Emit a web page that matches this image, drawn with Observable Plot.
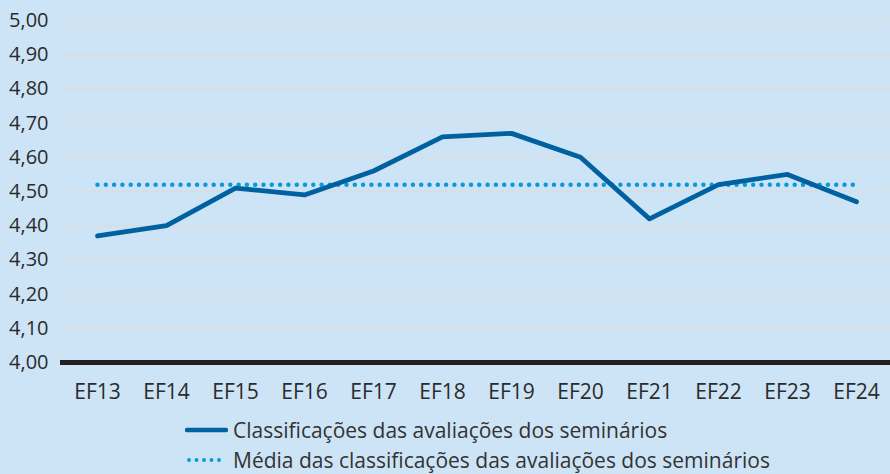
<!DOCTYPE html>
<html><head><meta charset="utf-8">
<script src="https://cdn.jsdelivr.net/npm/d3@7"></script>
<script src="https://cdn.jsdelivr.net/npm/@observablehq/plot@0.6"></script>
<style>
html,body{margin:0;padding:0;background:#cde4f6;}
body{width:890px;height:474px;overflow:hidden;font-family:"Open Sans","Noto Sans",sans-serif;color:#333;}
#chart svg{display:block;}
#legend{position:relative;padding-left:185px;margin-top:5px;}
.row{display:flex;align-items:center;height:30px;font-size:21px;color:#333;white-space:nowrap;}
.row span{line-height:22px;}
.row svg{margin-right:5px;display:block;}
</style></head><body>
<div id="chart"></div>
<div id="legend"></div>
<script>
const categories = ["EF13","EF14","EF15","EF16","EF17","EF18","EF19","EF20","EF21","EF22","EF23","EF24"];
const ratings = [4.37,4.40,4.51,4.49,4.56,4.66,4.67,4.60,4.42,4.52,4.55,4.47];
const meanRating = 4.52;
const yTicks = [4.0,4.1,4.2,4.3,4.4,4.5,4.6,4.7,4.8,4.9,5.0];
const seriesNames = ["Classificações das avaliações dos seminários","Média das classificações das avaliações dos seminários"];

const lineColor = "#0061a1";
const meanColor = "#0a9ad8";

const rows = categories.map((c,i)=>({cat:c, value:ratings[i], mean:meanRating}));

const chart = Plot.plot({
  width: 890,
  height: 410,
  marginLeft: 60,
  marginRight: 0,
  marginTop: 20,
  marginBottom: 48,
  style: {background:"transparent", fontFamily:"'Open Sans', 'Noto Sans', sans-serif", fontSize:"20px", color:"#2b2b2b"},
  x: {type:"point", domain: categories, range:[93,860], padding:0, label:null},
  y: {domain:[4,5], label:null},
  marks: [
    Plot.ruleY(yTicks.slice(1), {stroke:"#d9dde1", strokeWidth:1.5}),
    Plot.axisY({ticks: yTicks, tickFormat: d=>d.toFixed(2).replace(".",","), tickSize:0, tickPadding:12, fontSize:20, label:null}),
    Plot.axisX({tickSize:0, tickPadding:22, fontSize:21, label:null}),
    Plot.line(rows, {x:"cat", y:"mean", stroke:meanColor, strokeWidth:4.5, strokeDasharray:"0 8.3", strokeLinecap:"round"}),
    Plot.line(rows, {x:"cat", y:"value", stroke:lineColor, strokeWidth:4.8, strokeLinejoin:"round", strokeLinecap:"round"}),
    Plot.ruleY([4], {stroke:"#231f20", strokeWidth:5})
  ]
});
document.getElementById("chart").appendChild(chart);

const legend = document.getElementById("legend");
legend.innerHTML = `
<div class="row"><svg width="43" height="10"><line x1="2" y1="5" x2="41" y2="5" stroke="${lineColor}" stroke-width="4.5" stroke-linecap="round"/></svg><span>${seriesNames[0]}</span></div>
<div class="row"><svg width="43" height="10"><line x1="4" y1="5" x2="40" y2="5" stroke="${meanColor}" stroke-width="4" stroke-dasharray="0 7.5" stroke-linecap="round"/></svg><span>${seriesNames[1]}</span></div>`;
</script>
</body></html>
